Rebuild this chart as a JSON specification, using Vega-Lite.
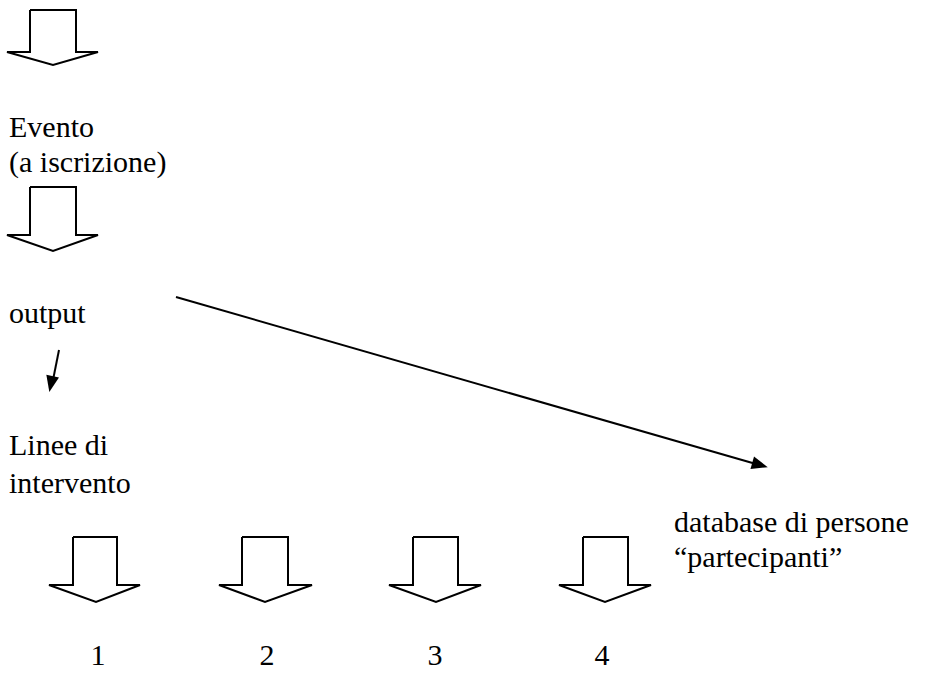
{
  "$schema": "https://vega.github.io/schema/vega-lite/v6.json",
  "width": 927,
  "height": 674,
  "autosize": {"type": "none"},
  "padding": 0,
  "background": "white",
  "config": {"view": {"stroke": null}},
  "datasets": {
    "arrows": [
      {"id": "a1", "o": 1, "x": 30, "y": 10}, {"id": "a1", "o": 2, "x": 76, "y": 10}, {"id": "a1", "o": 3, "x": 76, "y": 52},
      {"id": "a1", "o": 4, "x": 98, "y": 52}, {"id": "a1", "o": 5, "x": 53, "y": 65}, {"id": "a1", "o": 6, "x": 7, "y": 52},
      {"id": "a1", "o": 7, "x": 30, "y": 52}, {"id": "a1", "o": 8, "x": 30, "y": 10},
      {"id": "a2", "o": 1, "x": 30, "y": 187}, {"id": "a2", "o": 2, "x": 76, "y": 187}, {"id": "a2", "o": 3, "x": 76, "y": 235},
      {"id": "a2", "o": 4, "x": 98, "y": 235}, {"id": "a2", "o": 5, "x": 53, "y": 251}, {"id": "a2", "o": 6, "x": 7, "y": 235},
      {"id": "a2", "o": 7, "x": 30, "y": 235}, {"id": "a2", "o": 8, "x": 30, "y": 187},
      {"id": "b1", "o": 1, "x": 73, "y": 537}, {"id": "b1", "o": 2, "x": 117, "y": 537}, {"id": "b1", "o": 3, "x": 117, "y": 585},
      {"id": "b1", "o": 4, "x": 140, "y": 585}, {"id": "b1", "o": 5, "x": 96, "y": 602}, {"id": "b1", "o": 6, "x": 49, "y": 585},
      {"id": "b1", "o": 7, "x": 73, "y": 585}, {"id": "b1", "o": 8, "x": 73, "y": 537},
      {"id": "b2", "o": 1, "x": 242, "y": 537}, {"id": "b2", "o": 2, "x": 288, "y": 537}, {"id": "b2", "o": 3, "x": 288, "y": 585},
      {"id": "b2", "o": 4, "x": 312, "y": 585}, {"id": "b2", "o": 5, "x": 265, "y": 602}, {"id": "b2", "o": 6, "x": 219, "y": 585},
      {"id": "b2", "o": 7, "x": 242, "y": 585}, {"id": "b2", "o": 8, "x": 242, "y": 537},
      {"id": "b3", "o": 1, "x": 413, "y": 537}, {"id": "b3", "o": 2, "x": 458, "y": 537}, {"id": "b3", "o": 3, "x": 458, "y": 585},
      {"id": "b3", "o": 4, "x": 481, "y": 585}, {"id": "b3", "o": 5, "x": 436, "y": 602}, {"id": "b3", "o": 6, "x": 389, "y": 585},
      {"id": "b3", "o": 7, "x": 413, "y": 585}, {"id": "b3", "o": 8, "x": 413, "y": 537},
      {"id": "b4", "o": 1, "x": 583, "y": 537}, {"id": "b4", "o": 2, "x": 628, "y": 537}, {"id": "b4", "o": 3, "x": 628, "y": 585},
      {"id": "b4", "o": 4, "x": 651, "y": 585}, {"id": "b4", "o": 5, "x": 605, "y": 602}, {"id": "b4", "o": 6, "x": 559, "y": 585},
      {"id": "b4", "o": 7, "x": 583, "y": 585}, {"id": "b4", "o": 8, "x": 583, "y": 537},
      {"id": "l1", "o": 1, "x": 176, "y": 297}, {"id": "l1", "o": 2, "x": 756, "y": 464},
      {"id": "l2", "o": 1, "x": 59, "y": 350}, {"id": "l2", "o": 2, "x": 53, "y": 380}
    ],
    "heads": [
      {"x": 760, "y": 465, "angle": 16},
      {"x": 51, "y": 384, "angle": 102}
    ],
    "labels": [
      {"t": "Evento", "x": 9, "y": 137},
      {"t": "(a iscrizione)", "x": 9, "y": 172},
      {"t": "output", "x": 9, "y": 323},
      {"t": "Linee di", "x": 9, "y": 455},
      {"t": "intervento", "x": 9, "y": 493},
      {"t": "database di persone", "x": 674, "y": 532},
      {"t": "“partecipanti”", "x": 674, "y": 567}
    ],
    "numbers": [
      {"t": "1", "x": 98, "y": 665},
      {"t": "2", "x": 267, "y": 665},
      {"t": "3", "x": 435, "y": 665},
      {"t": "4", "x": 602, "y": 665}
    ]
  },
  "encoding": {
    "x": {"field": "x", "type": "quantitative", "scale": {"domain": [0, 927], "nice": false, "zero": false}, "axis": null},
    "y": {"field": "y", "type": "quantitative", "scale": {"domain": [0, 674], "reverse": true, "nice": false, "zero": false}, "axis": null}
  },
  "layer": [
    {
      "data": {"name": "arrows"},
      "mark": {"type": "line", "color": "black", "strokeWidth": 2, "strokeJoin": "miter"},
      "encoding": {
        "detail": {"field": "id"},
        "order": {"field": "o"}
      }
    },
    {
      "data": {"name": "heads"},
      "mark": {"type": "point", "filled": true, "color": "black", "opacity": 1, "size": 260, "shape": "M1,0 L-1,-0.8 L-1,0.8 Z"},
      "encoding": {
        "angle": {"field": "angle", "type": "quantitative", "scale": null}
      }
    },
    {
      "data": {"name": "labels"},
      "mark": {"type": "text", "font": "Liberation Serif", "fontSize": 30, "color": "black", "align": "left", "baseline": "alphabetic"},
      "encoding": {"text": {"field": "t"}}
    },
    {
      "data": {"name": "numbers"},
      "mark": {"type": "text", "font": "Liberation Serif", "fontSize": 30, "color": "black", "align": "center", "baseline": "alphabetic"},
      "encoding": {"text": {"field": "t"}}
    }
  ]
}
